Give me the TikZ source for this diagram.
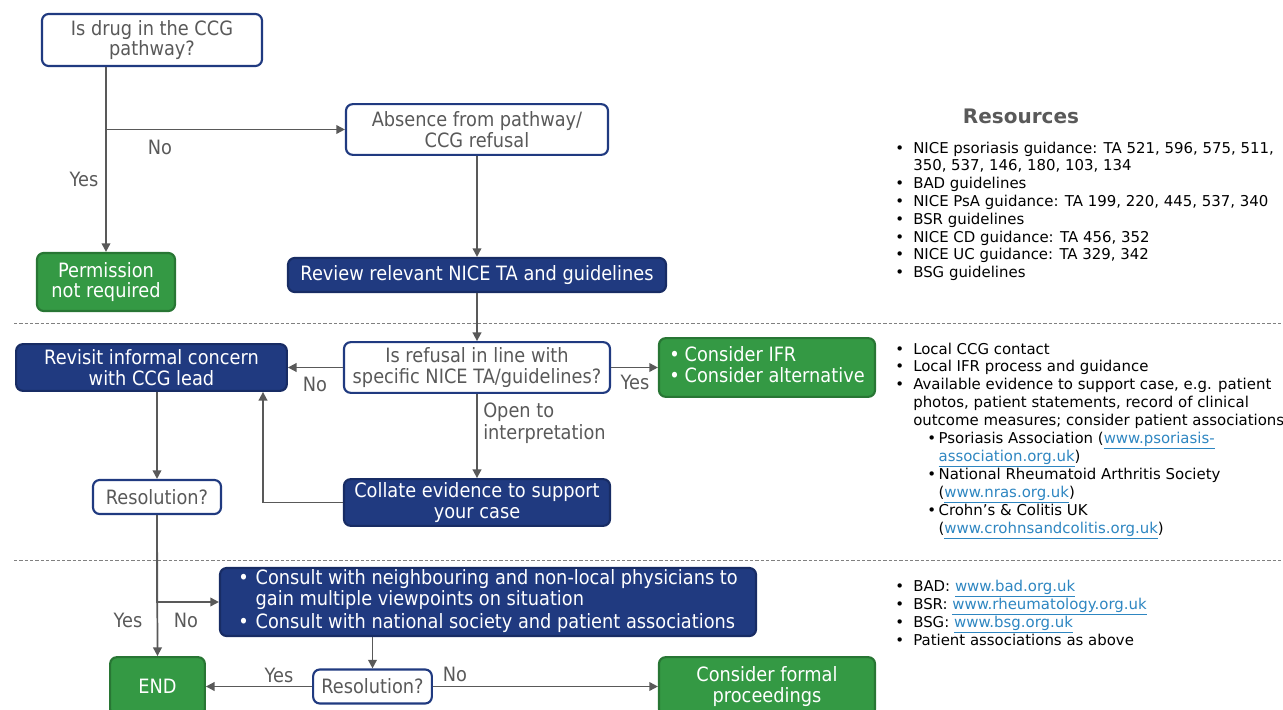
\documentclass[tikz,border=0pt]{standalone}
\usepackage{fontspec}
\setmainfont{DejaVu Sans}
\newfontfamily\boxfont[FakeStretch=0.9]{DejaVu Sans}
\usetikzlibrary{positioning,arrows.meta}
\definecolor{boxnavy}{RGB}{32,58,128}
\definecolor{navyedge}{RGB}{24,44,100}
\definecolor{boxgreen}{RGB}{52,153,68}
\definecolor{greenedge}{RGB}{40,118,52}
\definecolor{textgray}{RGB}{89,89,89}
\definecolor{linegray}{RGB}{89,89,89}
\definecolor{linkblue}{RGB}{46,134,193}
\newcommand{\weblink}[1]{\textcolor{linkblue}{\underline{#1}}}
\newcommand{\subpt}[1]{\hspace*{10.5pt}\makebox[8.5pt][l]{\textbullet}#1}
\newcommand{\subcont}[1]{\hspace*{19pt}#1}

\begin{document}
\begin{tikzpicture}[x=0.75pt, y=-0.75pt,
  box/.style={rectangle, rounded corners=5pt, inner sep=0pt, align=center,
    font=\boxfont\fontsize{14.8}{15.5}\selectfont, line width=1.6pt},
  whitebox/.style={box, draw=boxnavy, fill=white, text=textgray},
  navybox/.style={box, draw=navyedge, fill=boxnavy, text=white},
  greenbox/.style={box, draw=greenedge, fill=boxgreen, text=white},
  lbl/.style={inner sep=0pt, text=textgray, font=\boxfont\fontsize{14.8}{16.5}\selectfont},
  arr/.style={draw=linegray, line width=1.3pt, -{Triangle[length=6.5pt,width=6.5pt]}},
  sep/.style={draw=gray, line width=0.6pt, dash pattern=on 2.5pt off 1.5pt},
  reslist/.style={inner sep=0pt, anchor=base west, font=\fontsize{11.2}{13.35}\selectfont}]
  \useasboundingbox (0,0) rectangle (1283,710);

  % first part: pathway question
  \node[whitebox, minimum width=165pt, minimum height=39pt] (q1) at (152,40) {Is drug in the CCG\\pathway?};
  \node[whitebox, minimum width=196.5pt, minimum height=38pt] (absence) at (477,129.5) {Absence from pathway/\\CCG refusal};
  \node[greenbox, minimum width=103.5pt, minimum height=43.5pt] (perm) at (106,282) {Permission\\not required};
  \node[navybox, minimum width=283.5pt, minimum height=25.5pt] (review) at (477,275) {Review relevant NICE TA and guidelines};

  \draw[arr] (q1.south -| perm.north) -- (perm.north);
  \draw[arr] (q1.south -| perm.north) |- (absence.west);
  \draw[arr] (absence.south) -- (review.north);
  \node[lbl] (no1) at (160,147) {No};
  \node[lbl] (yes1) at (84,179) {Yes};

  \draw[sep] (14,323) -- (1281,323);

  % second part: refusal check
  \node[whitebox, minimum width=199.5pt, minimum height=38pt] (refusal) at (477,367.5) {Is refusal in line with\\specific NICE TA/guidelines?};
  \node[navybox, minimum width=203pt, minimum height=35pt] (revisit) at (151.5,367.5) {Revisit informal concern\\with CCG lead};
  \node[greenbox, minimum width=162pt, minimum height=44pt] (ifr) at (767,367.5)
    {\begin{tabular}{@{}p{11.5pt}@{}l@{}}\textbullet & Consider IFR\\ \textbullet & Consider alternative\end{tabular}};
  \node[whitebox, minimum width=96pt, minimum height=25.5pt] (res1) at (157,497) {Resolution?};
  \node[navybox, minimum width=199.5pt, minimum height=35pt] (collate) at (477,502.5) {Collate evidence to support\\your case};
  \coordinate (backup) at (263,0);

  \draw[arr] (review.south) -- (refusal.north);
  \draw[arr] (refusal.west) -- (revisit.east);
  \draw[arr] (refusal.east) -- (ifr.west);
  \draw[arr] (refusal.south) -- (collate.north);
  \draw[arr] (collate.west) -| (revisit.south -| backup);
  \draw[arr] (revisit.south -| res1.north) -- (res1.north);
  \node[lbl] (no2) at (315,384) {No};
  \node[lbl] (yes2) at (635,382) {Yes};
  \node[lbl, anchor=north west, align=left] (open) at (483,403) {Open to\\interpretation};

  \draw[sep] (14,560) -- (1281,560);

  % third part: escalation
  \node[navybox, minimum width=402pt, minimum height=51pt] (consult) at (488,602)
    {\begin{tabular}{@{}p{13pt}@{}l@{}}\textbullet & Consult with neighbouring and non-local physicians to\\
      & gain multiple viewpoints on situation\\[1pt]
      \textbullet & Consult with national society and patient associations\end{tabular}};
  \node[greenbox, minimum width=71pt, minimum height=44pt] (end) at (157.5,686.5) {END};
  \node[whitebox, minimum width=89pt, minimum height=25.5pt] (res2) at (372.5,686.5) {Resolution?};
  \node[greenbox, minimum width=162pt, minimum height=44pt] (formal) at (767,686.5) {Consider formal\\proceedings};

  \draw[arr] (res1.south) -- (end.north);
  \draw[arr] (res1.south) |- (consult.west);
  \draw[arr] (consult.south -| res2.north) -- (res2.north);
  \draw[arr] (res2.west) -- (end.east);
  \draw[arr] (res2.east) -- (formal.west);
  \node[lbl] (yes3) at (128,620) {Yes};
  \node[lbl] (no3) at (186,620) {No};
  \node[lbl] (yes4) at (279,675) {Yes};
  \node[lbl] (no4) at (455,674) {No};

  % resources column
  \node[inner sep=0pt, text=textgray, font=\bfseries\fontsize{15}{18}\selectfont] (restitle) at (1021,116) {Resources};
  \node[reslist] (guides) at (895,153)
    {\begin{tabular}[t]{@{}p{13.5pt}@{}l@{}}
      \textbullet & NICE psoriasis guidance: TA 521, 596, 575, 511,\\
      & 350, 537, 146, 180, 103, 134\\
      \textbullet & BAD guidelines\\
      \textbullet & NICE PsA guidance: TA 199, 220, 445, 537, 340\\
      \textbullet & BSR guidelines\\
      \textbullet & NICE CD guidance: TA 456, 352\\
      \textbullet & NICE UC guidance: TA 329, 342\\
      \textbullet & BSG guidelines
    \end{tabular}};
  \node[reslist] (contacts) at (895,354)
    {\begin{tabular}[t]{@{}p{13.5pt}@{}l@{}}
      \textbullet & Local CCG contact\\
      \textbullet & Local IFR process and guidance\\
      \textbullet & Available evidence to support case, e.g. patient\\
      & photos, patient statements, record of clinical\\
      & outcome measures; consider patient associations\\
      & \subpt{Psoriasis Association (\weblink{www.psoriasis-}}\\
      & \subcont{\weblink{association.org.uk})}\\
      & \subpt{National Rheumatoid Arthritis Society}\\
      & \subcont{(\weblink{www.nras.org.uk})}\\
      & \subpt{Crohn’s \& Colitis UK}\\
      & \subcont{(\weblink{www.crohnsandcolitis.org.uk})}
    \end{tabular}};
  \node[reslist] (societies) at (895,591)
    {\begin{tabular}[t]{@{}p{13.5pt}@{}l@{}}
      \textbullet & BAD: \weblink{www.bad.org.uk}\\
      \textbullet & BSR: \weblink{www.rheumatology.org.uk}\\
      \textbullet & BSG: \weblink{www.bsg.org.uk}\\
      \textbullet & Patient associations as above
    \end{tabular}};
\end{tikzpicture}
\end{document}
